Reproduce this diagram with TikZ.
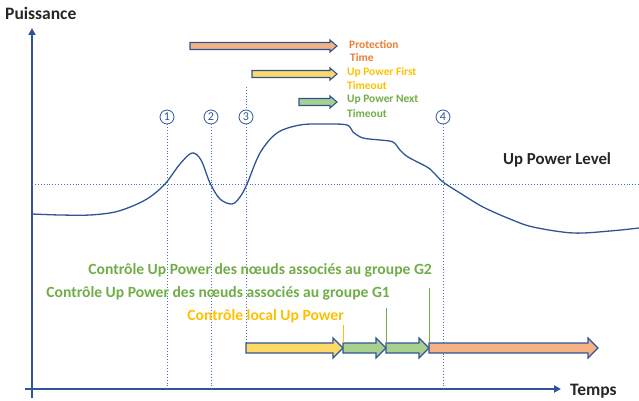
\documentclass[tikz,border=0pt]{standalone}
\usepackage{fontspec}
\setmainfont{Carlito}
\definecolor{axisblue}{HTML}{2F5597}
\definecolor{dotblue}{HTML}{4472C4}
\definecolor{salmon}{HTML}{F4B183}
\definecolor{yelfill}{HTML}{FFD966}
\definecolor{grnfill}{HTML}{A9D18E}
\definecolor{txtorange}{HTML}{ED7D31}
\definecolor{txtgold}{HTML}{FFC000}
\definecolor{txtgreen}{HTML}{70AD47}
\newcommand{\blkarrow}[7]{% x1 x2 y shafthalf headhalf headlen fill
  \filldraw[draw=axisblue, line width=1.1pt, fill=#7, line join=miter]
    (#1,#3-#4) -- (#2-#6,#3-#4) -- (#2-#6,#3-#5) -- (#2,#3) -- (#2-#6,#3+#5)
    -- (#2-#6,#3+#4) -- (#1,#3+#4) -- cycle;}
\tikzset{
  axis/.style={draw=axisblue, line width=2.6pt, -{Triangle[length=7pt,width=7pt]}},
  guide/.style={draw=dotblue, line width=0.9pt, dotted},
  ticklbl/.style={circle, draw=axisblue, line width=0.8pt, text=axisblue, minimum size=14pt, inner sep=0pt, font=\fontsize{12}{12}\selectfont},
  bigtxt/.style={font=\fontsize{15.6}{15.6}\selectfont\bfseries, inner sep=0pt},
  lbltxt/.style={font=\fontsize{17.5}{17.5}\selectfont\bfseries, inner sep=0pt, anchor=west, text=black!85},
  smalltxt/.style={font=\fontsize{11.4}{11.4}\selectfont\bfseries, inner sep=0pt, anchor=west},
}
\usetikzlibrary{arrows.meta}
\begin{document}
\begin{tikzpicture}[x=1pt,y=-1pt]
\useasboundingbox (0,0) rectangle (639,401);
% axes
\coordinate (yb) at (32,398);
\coordinate (yt) at (32,28);
\coordinate (xl) at (25,389);
\coordinate (xr) at (561,389);
\draw[axis] (yb) -- (yt);
\draw[axis] (xl) -- (xr);
\node[lbltxt] (puiss) at (5,13) {Puissance};
\node[lbltxt] (temps) at (570,391) {Temps};
% up power level
\coordinate (lvl1) at (32,184);
\coordinate (lvl2) at (639,184);
\draw[guide] (lvl1) -- (lvl2);
\node[lbltxt, font=\fontsize{16.8}{16.8}\selectfont\bfseries] (lvl) at (503,160) {Up Power Level};
% markers
\node[ticklbl] (c1) at (167,117) {1};
\node[ticklbl] (c2) at (211,117) {2};
\node[ticklbl] (c3) at (246,117) {3};
\node[ticklbl] (c4) at (443,117) {4};
\coordinate (b1) at (167,389);
\coordinate (b2) at (211,389);
\coordinate (b3) at (246,343);
\coordinate (t3) at (246,87);
\coordinate (b4) at (443,389);
\draw[guide] (c1) -- (b1);
\draw[guide] (c2) -- (b2);
\draw[guide] (c3) -- (b3);
\draw[guide] (t3) -- (c3);
\draw[guide] (c4) -- (b4);
% curve
\draw[axisblue, line width=1.3pt] plot[smooth, tension=0.55] coordinates {
(32,214) (60,215) (90,215) (115,212) (135,205) (150,197) (165,184) (180,164)
(192,153) (201,160) (210,183) (220,199) (232,204) (240,197) (247,184) (260,153)
(277,133) (300,125) (325,124) (347,125) (353,132) (363,138) (380,140) (393,142)
(400,150) (408,157) (427,167) (434,173) (443,182) (460,193) (483,207) (510,219)
(533,227) (573,233) (610,231) (639,228)};
% top arrows
\blkarrow{190}{337}{46}{3.5}{6}{7}{salmon}
\blkarrow{252}{337}{74}{3.5}{6}{7}{yelfill}
\blkarrow{299}{337}{102}{3.5}{6}{7}{grnfill}
\node[smalltxt, text=txtorange] (pt1) at (349,45) {Protection};
\node[smalltxt, text=txtorange] (pt2) at (350,58) {Time};
\node[smalltxt, text=txtgold] (uf1) at (347,72) {Up Power First};
\node[smalltxt, text=txtgold] (uf2) at (347,86) {Timeout};
\node[smalltxt, text=txtgreen] (un1) at (347,100) {Up Power Next};
\node[smalltxt, text=txtgreen] (un2) at (347,114) {Timeout};
% bottom arrows
\blkarrow{246}{343}{348}{5}{10}{10}{yelfill}
\blkarrow{343}{386}{348}{5}{10}{10}{grnfill}
\blkarrow{386}{429}{348}{5}{10}{10}{grnfill}
\blkarrow{429}{598}{348}{5}{10}{10}{salmon}
% ticks
\coordinate (ty1) at (343,325); \coordinate (ty2) at (343,343);
\coordinate (tg1) at (386,308); \coordinate (tg2) at (386,343);
\coordinate (th1) at (429,288); \coordinate (th2) at (429,343);
\draw[txtgold, line width=0.8pt] (ty1) -- (ty2);
\draw[txtgreen, line width=0.8pt] (tg1) -- (tg2);
\draw[txtgreen, line width=0.8pt] (th1) -- (th2);
\node[bigtxt, anchor=east, text=txtgreen] (g2) at (432,270) {Contrôle Up Power des nœuds associés au groupe G2};
\node[bigtxt, anchor=east, text=txtgreen] (g1) at (390,293) {Contrôle Up Power des nœuds associés au groupe G1};
\node[bigtxt, anchor=east, text=txtgold] (loc) at (344,316) {Contrôle local Up Power};
\end{tikzpicture}
\end{document}
